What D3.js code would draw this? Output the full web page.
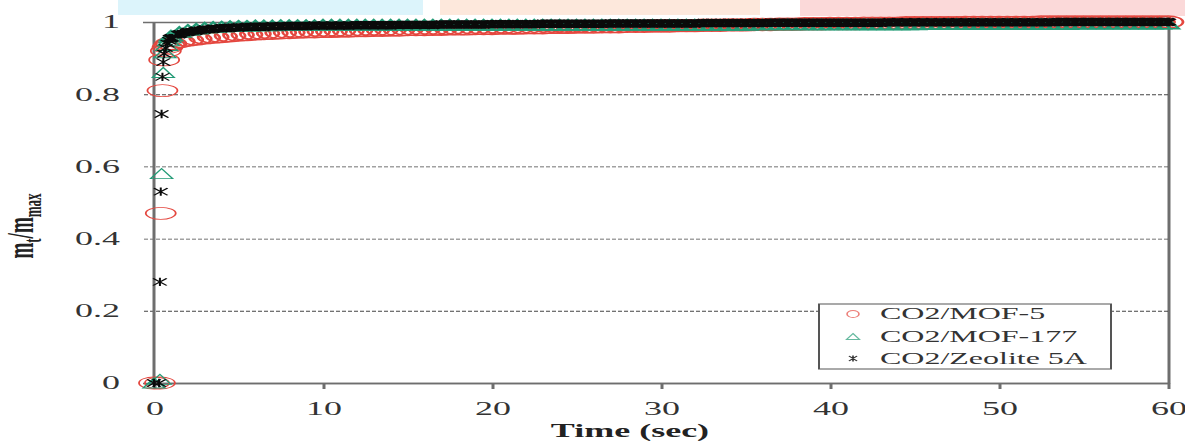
<!DOCTYPE html>
<html>
<head>
<meta charset="utf-8">
<script src="https://cdn.jsdelivr.net/npm/d3@7"></script>
<style>
  body { margin: 0; background: #fff; }
  text { font-family: "Liberation Serif", "Times New Roman", serif; }
</style>
</head>
<body>
<script>
// ---- data ----
let xTicks = [0, 10, 20, 30, 40, 50, 60];
let yTicks = [0, 0.2, 0.4, 0.6, 0.8, 1];
let seriesNames = ["CO2/MOF-5", "CO2/MOF-177", "CO2/Zeolite 5A"];

// first instants (sec), where the curves jump up
let mof5EarlyTime = [0, 0.35, 0.4, 0.5, 0.6, 0.7, 0.8, 0.9];
let mof5EarlyVal  = [0, 0, 0.47, 0.81, 0.895, 0.92, 0.93, 0.936];
let mof177EarlyTime = [0, 0.35, 0.45, 0.55, 0.65, 0.75, 0.85, 0.95];
let mof177EarlyVal  = [0, 0.01, 0.58, 0.86, 0.915, 0.935, 0.948, 0.956];
let zeoEarlyTime = [0, 0.3, 0.35, 0.4, 0.45, 0.5, 0.55, 0.6, 0.7, 0.8, 0.9];
let zeoEarlyVal  = [0, 0, 0.28, 0.53, 0.745, 0.848, 0.889, 0.912, 0.928, 0.94, 0.948];

// dense part, one sample every half second
let bandTime = [1,1.5,2,2.5,3,3.5,4,4.5,5,5.5,6,6.5,7,7.5,8,8.5,9,9.5,10,
  10.5,11,11.5,12,12.5,13,13.5,14,14.5,15,15.5,16,16.5,17,17.5,18,18.5,19,19.5,20,
  20.5,21,21.5,22,22.5,23,23.5,24,24.5,25,25.5,26,26.5,27,27.5,28,28.5,29,29.5,30,
  30.5,31,31.5,32,32.5,33,33.5,34,34.5,35,35.5,36,36.5,37,37.5,38,38.5,39,39.5,40,
  40.5,41,41.5,42,42.5,43,43.5,44,44.5,45,45.5,46,46.5,47,47.5,48,48.5,49,49.5,50,
  50.5,51,51.5,52,52.5,53,53.5,54,54.5,55,55.5,56,56.5,57,57.5,58,58.5,59,59.5,60];

let mof5Band = [0.940,0.946,0.950,0.953,0.956,0.958,0.960,0.962,0.964,0.965,0.967,0.968,0.969,0.970,0.971,0.972,0.973,0.973,0.974,
  0.974,0.975,0.975,0.976,0.976,0.977,0.977,0.978,0.978,0.979,0.979,0.979,0.980,0.980,0.981,0.981,0.981,0.982,0.982,0.982,
  0.983,0.983,0.983,0.984,0.984,0.984,0.985,0.985,0.985,0.986,0.986,0.986,0.987,0.987,0.987,0.988,0.988,0.988,0.989,0.989,
  0.989,0.990,0.990,0.990,0.991,0.991,0.991,0.992,0.992,0.992,0.993,0.993,0.993,0.994,0.994,0.994,0.995,0.995,0.995,0.996,
  0.996,0.996,0.996,0.997,0.997,0.997,0.997,0.997,0.998,0.998,0.998,0.998,0.998,0.998,0.998,0.999,0.999,0.999,0.999,0.999,
  0.999,0.999,0.999,0.999,1.000,1.000,1.000,1.000,1.000,1.000,1.000,1.000,1.000,1.000,1.000,1.000,1.000,1.000,1.000,1.000];

let mof177Band = [0.962,0.972,0.978,0.981,0.984,0.986,0.987,0.988,0.989,0.989,0.990,0.990,0.990,0.991,0.991,0.991,0.991,0.991,0.992,
  0.992,0.992,0.992,0.992,0.992,0.992,0.992,0.992,0.992,0.992,0.992,0.992,0.992,0.992,0.992,0.992,0.992,0.992,0.992,0.992,
  0.992,0.992,0.992,0.992,0.992,0.992,0.992,0.992,0.992,0.992,0.992,0.992,0.992,0.992,0.992,0.992,0.992,0.992,0.992,0.992,
  0.992,0.992,0.992,0.992,0.992,0.992,0.992,0.992,0.992,0.992,0.993,0.993,0.993,0.993,0.993,0.993,0.993,0.993,0.993,0.993,
  0.993,0.993,0.993,0.993,0.993,0.993,0.993,0.993,0.993,0.993,0.994,0.994,0.994,0.994,0.994,0.994,0.994,0.994,0.994,0.994,
  0.994,0.994,0.994,0.994,0.994,0.994,0.994,0.994,0.995,0.995,0.995,0.995,0.995,0.995,0.995,0.995,0.995,0.995,0.995,0.995];

let zeoBand = [0.955,0.966,0.972,0.976,0.979,0.981,0.983,0.984,0.985,0.986,0.987,0.987,0.988,0.988,0.989,0.989,0.989,0.990,0.990,
  0.990,0.990,0.990,0.991,0.991,0.991,0.991,0.991,0.992,0.992,0.992,0.992,0.992,0.993,0.993,0.993,0.993,0.993,0.993,0.994,
  0.994,0.994,0.994,0.994,0.994,0.995,0.995,0.995,0.995,0.995,0.995,0.995,0.995,0.996,0.996,0.996,0.996,0.996,0.996,0.996,
  0.996,0.996,0.996,0.996,0.997,0.997,0.997,0.997,0.997,0.997,0.997,0.997,0.998,0.998,0.998,0.998,0.998,0.998,0.998,0.998,
  0.998,0.998,0.998,0.998,0.998,0.998,0.999,0.999,0.999,0.999,0.999,0.999,0.999,0.999,0.999,0.999,0.999,0.999,0.999,0.999,
  0.999,0.999,0.999,0.999,0.999,0.999,1.000,1.000,1.000,1.000,1.000,1.000,1.000,1.000,1.000,1.000,1.000,1.000,1.000,1.000];

// ---- drawing ----
let svg = d3.select("body").append("svg")
  .attr("width", 1185)
  .attr("height", 441);

// pale coloured strip at the very top of the scan
svg.append("rect").attr("x", 118).attr("y", 0).attr("width", 305).attr("height", 15).attr("fill", "#dcf4fb");
svg.append("rect").attr("x", 440).attr("y", 0).attr("width", 320).attr("height", 15).attr("fill", "#fde8dc");
svg.append("rect").attr("x", 800).attr("y", 0).attr("width", 385).attr("height", 16).attr("fill", "#fbd9d9");

// the original figure is stretched twice in width; draw it narrow and stretch it
let g = svg.append("g").attr("transform", "scale(2,1)");

let xScale = d3.scaleLinear().domain([0, 60]).range([77, 584]);
let yScale = d3.scaleLinear().domain([0, 1]).range([383, 22]);
let axisGrey = "#6e6e6e";
let textColor = "#333";

// y axis drawn from the right border: grid lines + labels
let yAxis = d3.axisLeft(yScale)
  .tickValues(yTicks)
  .tickSize(584 - 71.5)
  .tickSizeOuter(0)
  .tickPadding(11.5)
  .tickFormat(d => d === 0 || d === 1 ? d3.format("d")(d) : d3.format(".1f")(d));

let yg = g.append("g").attr("transform", "translate(584,0)").call(yAxis);
yg.select(".domain").attr("stroke", axisGrey).attr("stroke-width", 1.5);
yg.selectAll(".tick line")
  .attr("stroke", d => d === 0 || d === 1 ? axisGrey : "#444")
  .attr("stroke-width", d => d === 0 || d === 1 ? 1.5 : 0.9)
  .attr("stroke-dasharray", d => d === 0 || d === 1 ? null : "2,1");
yg.selectAll(".tick text")
  .attr("font-size", 18)
  .attr("fill", textColor)
  .attr("dy", "0.33em")
  .style("font-family", '"Liberation Serif", "Times New Roman", serif');

// x axis
let xAxis = d3.axisBottom(xScale)
  .tickValues(xTicks)
  .tickSize(6)
  .tickSizeOuter(0)
  .tickPadding(13);

let xg = g.append("g").attr("transform", "translate(0,383)").call(xAxis);
xg.select(".domain").attr("stroke", axisGrey).attr("stroke-width", 1.5);
xg.selectAll(".tick line").attr("stroke", axisGrey).attr("stroke-width", 1.5);
xg.selectAll(".tick text")
  .attr("font-size", 18)
  .attr("fill", textColor)
  .style("font-family", '"Liberation Serif", "Times New Roman", serif');

// left axis line
g.append("line")
  .attr("x1", xScale(0)).attr("x2", xScale(0))
  .attr("y1", yScale(1)).attr("y2", yScale(0))
  .attr("stroke", axisGrey).attr("stroke-width", 1.5);

// axis titles
g.append("text")
  .attr("x", 315).attr("y", 437)
  .attr("text-anchor", "middle")
  .attr("font-size", 18).attr("font-weight", "bold").attr("fill", "#222")
  .text("Time (sec)");

let yTitle = g.append("text")
  .attr("transform", "translate(16.5,226) rotate(-90)")
  .attr("text-anchor", "middle")
  .attr("font-size", 19).attr("font-weight", "bold").attr("fill", "#222");
yTitle.append("tspan").text("m");
yTitle.append("tspan").attr("font-size", 13).attr("dy", 4).text("t");
yTitle.append("tspan").attr("dy", -4).text("/m");
yTitle.append("tspan").attr("font-size", 13).attr("dy", 4).text("max");

// markers
let markers = {
  circle: "M-7.5,0A7.5,6 0 1,0 7.5,0A7.5,6 0 1,0 -7.5,0Z",
  triangle: "M0,-5L5.5,5L-5.5,5Z",
  star: "M-3.4,-3.6L3.4,3.6M-3.4,3.6L3.4,-3.6M0,-4.2L0,4.2"
};
let legendMarkers = {
  circle: "M-3,0A3,3.5 0 1,0 3,0A3,3.5 0 1,0 -3,0Z",
  triangle: "M0,-3L3.3,3L-3.3,3Z",
  star: "M-2,-2.6L2,2.6M-2,2.6L2,-2.6M0,-3L0,3"
};
let kinds = ["circle", "triangle", "star"];
let colors = ["#e4473f", "#239b76", "#0a0a0a"];
let widths = [1.4, 1.5, 2.6];
let earlyWidths = [0.9, 0.9, 1.0];

let series = [
  { time: mof5EarlyTime.concat(bandTime), val: mof5EarlyVal.concat(mof5Band) },
  { time: mof177EarlyTime.concat(bandTime), val: mof177EarlyVal.concat(mof177Band) },
  { time: zeoEarlyTime.concat(bandTime), val: zeoEarlyVal.concat(zeoBand) }
];

series.forEach(function(s, k) {
  let pts = s.time.map((t, i) => ({ t: t, v: s.val[i] }));
  g.append("g")
    .selectAll("path")
    .data(pts)
    .enter()
    .append("path")
    .attr("transform", d => `translate(${xScale(d.t)},${yScale(d.v)})`)
    .attr("d", markers[kinds[k]])
    .attr("fill", "none")
    .attr("stroke", colors[k])
    .attr("stroke-width", d => d.t < 1 ? earlyWidths[k] : widths[k]);
});

// legend
let lg = g.append("g");
lg.append("rect")
  .attr("x", 409.5).attr("y", 304)
  .attr("width", 146).attr("height", 65)
  .attr("fill", "#fff")
  .attr("stroke", "#555").attr("stroke-width", 1);

let rowY = [314, 336.5, 358.5];
seriesNames.forEach(function(name, k) {
  lg.append("path")
    .attr("transform", `translate(426.5,${rowY[k]})`)
    .attr("d", legendMarkers[kinds[k]])
    .attr("fill", "none")
    .attr("stroke", k === 2 ? "#333" : colors[k])
    .attr("stroke-width", 0.8)
    .attr("opacity", k === 2 ? 1 : 0.7);
  lg.append("text")
    .attr("x", 440).attr("y", rowY[k] + 5.5)
    .attr("font-size", 16).attr("fill", textColor)
    .text(name);
});
</script>
</body>
</html>
